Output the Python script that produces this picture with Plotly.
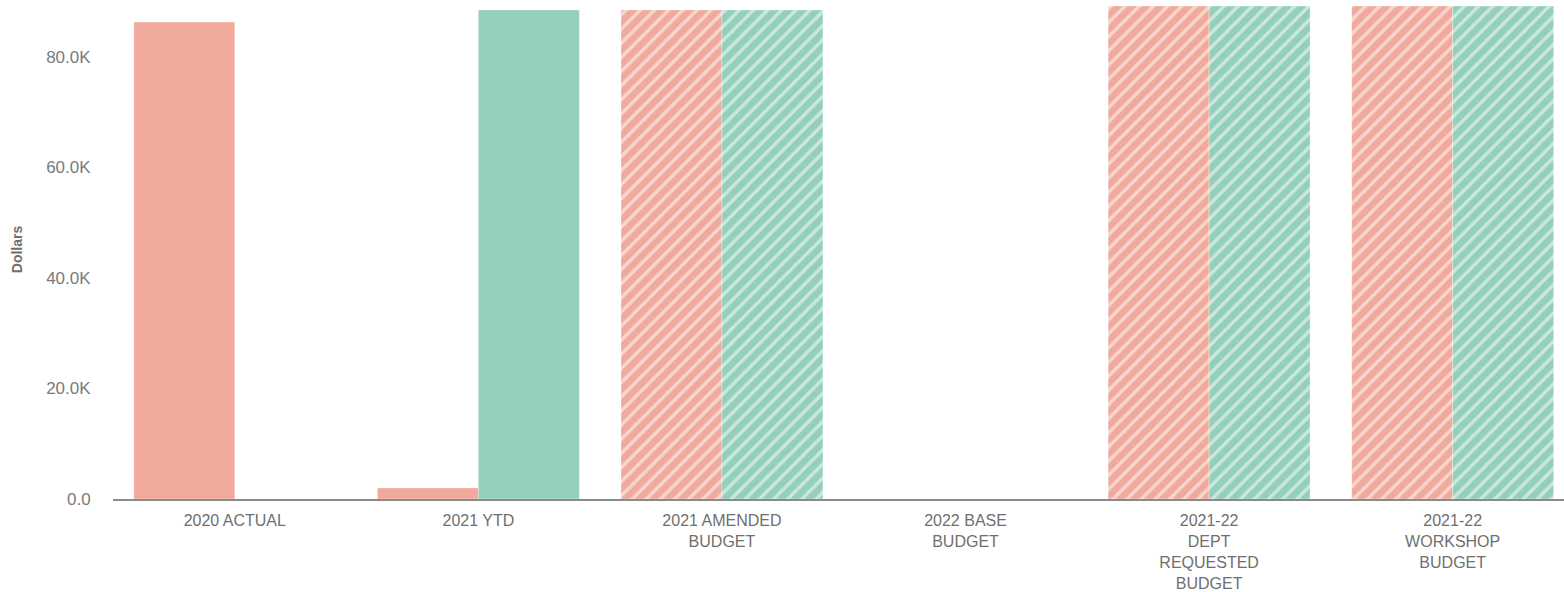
import plotly.graph_objects as go

categories = [
    "2020 ACTUAL",
    "2021 YTD",
    "2021 AMENDED<br>BUDGET",
    "2022 BASE<br>BUDGET",
    "2021-22<br>DEPT<br>REQUESTED<br>BUDGET",
    "2021-22<br>WORKSHOP<br>BUDGET",
]
expenditures = [86300, 2000, 88500, 0, 89200, 89200]
revenues = [0, 88500, 88500, 0, 89200, 89200]
# budget columns are hatched, actuals are solid
hatch = ["", "", "/", "/", "/", "/"]

tick_vals = [0, 20000, 40000, 60000, 80000]
tick_text = ["0.0", "20.0K", "40.0K", "60.0K", "80.0K"]

SALMON = "#F0A99B"
TEAL = "#93CFB9"

fig = go.Figure()
for name, vals, col in [("Expenditures", expenditures, SALMON), ("Revenues", revenues, TEAL)]:
    fig.add_trace(go.Bar(
        name=name,
        x=categories,
        y=vals,
        marker=dict(
            color=col,
            line=dict(color="rgba(255,255,255,0.3)", width=1),
            pattern=dict(shape=hatch, fgcolor="white", bgcolor=col,
                         fgopacity=0.5, size=10, solidity=0.35),
        ),
    ))

fig.update_layout(
    width=1564, height=592,
    margin=dict(l=113, r=0, t=0, b=93),
    paper_bgcolor="white", plot_bgcolor="white",
    barmode="group", bargap=0.171, bargroupgap=0,
    showlegend=False,
    font=dict(family="Liberation Sans, Arial, sans-serif", color="#757575", size=17),
    xaxis=dict(
        range=[-0.5, 5.457],
        automargin=False,
        showgrid=False, zeroline=False,
        showline=True, linecolor="#8a8a8a", linewidth=2,
        ticks="outside", ticklen=6, tickcolor="rgba(0,0,0,0)",
        tickfont=dict(size=16, color="#6f6f6f"),
    ),
    yaxis=dict(
        range=[0, 90300],
        automargin=False,
        showgrid=False, zeroline=False, showline=False,
        tickvals=tick_vals, ticktext=tick_text,
        ticks="outside", ticklen=18, tickcolor="rgba(0,0,0,0)",
        tickfont=dict(size=17, color="#7a7a7a"),
        title=dict(text="<b>Dollars</b>", font=dict(size=14, color="#6f6f6f"), standoff=20),
    ),
)

fig.write_html("out.html")
